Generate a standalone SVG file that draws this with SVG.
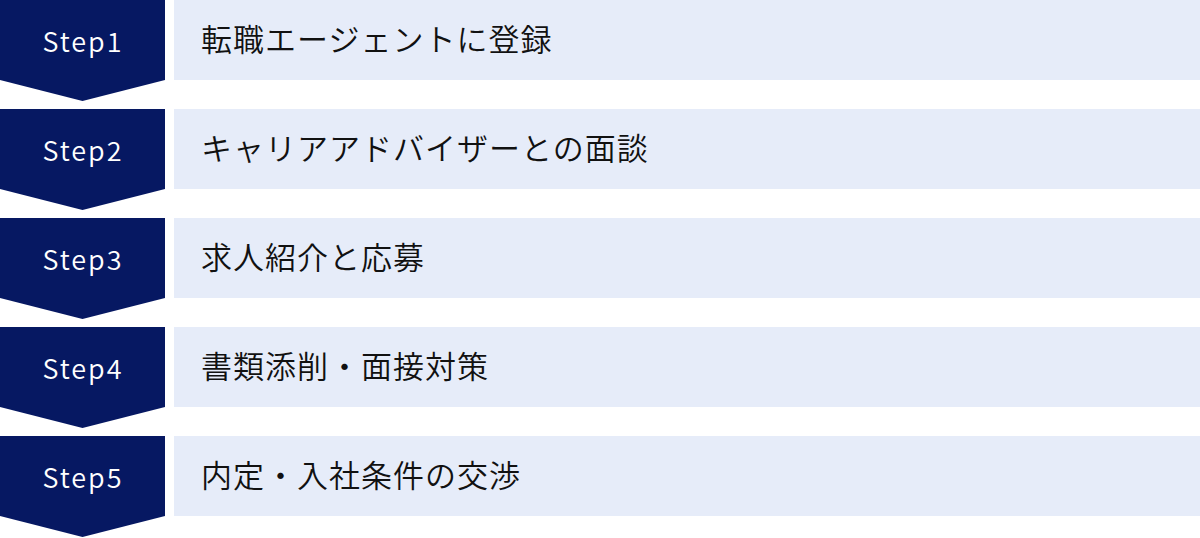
<svg xmlns="http://www.w3.org/2000/svg" width="1200" height="538" viewBox="0 0 1200 538">
<style>
.tab{fill:#061862}
.box{fill:#E6ECF9}
.step{font-family:"Noto Sans CJK JP","Noto Sans",sans-serif;font-size:27px;font-weight:350;fill:#ffffff;letter-spacing:2px;text-anchor:middle}
.lbl{font-family:"Noto Sans CJK JP","Noto Sans",sans-serif;font-size:31px;font-weight:350;fill:#111111;letter-spacing:1px}
</style>
<rect width="1200" height="538" fill="#ffffff"/>
<g id="step1">
<polygon class="tab" points="0,0 165,0 165,80 82.5,101 0,80"/>
<rect class="box" x="174" y="0" width="1026" height="80"/>
<text class="step" x="83" y="51.5">Step1</text>
<text class="lbl" x="201" y="51">転職エージェントに登録</text>
</g>
<g id="step2">
<polygon class="tab" points="0,109 165,109 165,189 82.5,210 0,189"/>
<rect class="box" x="174" y="109" width="1026" height="80"/>
<text class="step" x="83" y="160.5">Step2</text>
<text class="lbl" x="201" y="160">キャリアアドバイザーとの面談</text>
</g>
<g id="step3">
<polygon class="tab" points="0,218 165,218 165,298 82.5,319 0,298"/>
<rect class="box" x="174" y="218" width="1026" height="80"/>
<text class="step" x="83" y="269.5">Step3</text>
<text class="lbl" x="201" y="269">求人紹介と応募</text>
</g>
<g id="step4">
<polygon class="tab" points="0,327 165,327 165,407 82.5,428 0,407"/>
<rect class="box" x="174" y="327" width="1026" height="80"/>
<text class="step" x="83" y="378.5">Step4</text>
<text class="lbl" x="201" y="378">書類添削・面接対策</text>
</g>
<g id="step5">
<polygon class="tab" points="0,436 165,436 165,516 82.5,537 0,516"/>
<rect class="box" x="174" y="436" width="1026" height="80"/>
<text class="step" x="83" y="487.5">Step5</text>
<text class="lbl" x="201" y="487">内定・入社条件の交渉</text>
</g>
<g id="connectors"></g>
</svg>
